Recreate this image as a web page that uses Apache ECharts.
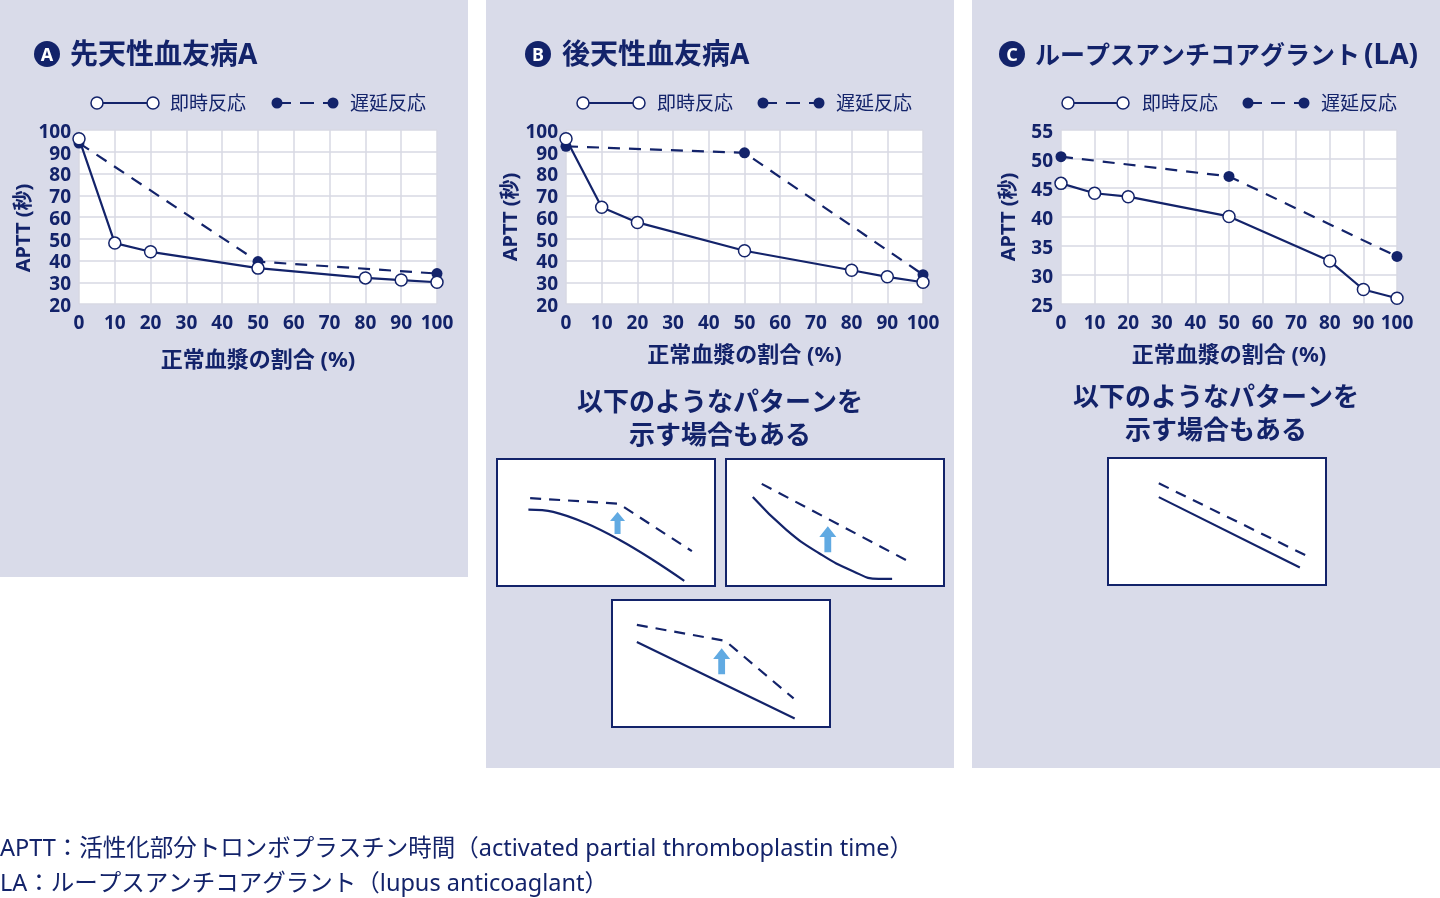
<!DOCTYPE html>
<html>
<head>
<meta charset="utf-8">
<script src="https://cdn.jsdelivr.net/npm/echarts@6/dist/echarts.min.js"></script>
<style>
html,body{margin:0;padding:0;background:#fff;}
#chart{width:1440px;height:898px;}
</style>
</head>
<body>
<div id="chart"></div>
<script>
// ---------- data ----------
const plasmaPct = [0, 10, 20, 50, 80, 90, 100];
const delayedPct = [0, 50, 100];
const xTicks = [0, 10, 20, 30, 40, 50, 60, 70, 80, 90, 100];

const aImmediate = [96, 48, 44, 36.5, 32, 31, 30];
const aDelayed = [94, 39.5, 34];
const bImmediate = [96, 64.5, 57.5, 44.5, 35.5, 32.5, 30];
const bDelayed = [92.5, 89.5, 33.5];
const cImmediate = [45.8, 44.1, 43.5, 40.1, 32.4, 27.5, 26];
const cDelayed = [50.4, 47, 33.2];

const titles = ['先天性血友病A', '後天性血友病A', 'ループスアンチコアグラント(LA)'];
const badges = ['A', 'B', 'C'];
const legendNames = ['即時反応', '遅延反応'];
const yName = 'APTT (秒)';
const xName = '正常血漿の割合 (%)';
const noteText = '以下のようなパターンを\n示す場合もある';
const footer1 = 'APTT：活性化部分トロンボプラスチン時間（activated partial thromboplastin time）';
const footer2 = 'LA：ループスアンチコアグラント（lupus anticoaglant）';

// schematic pattern sketches (percent of box)
const p1Solid = [[14.4, 60.2], [25.8, 58.4], [40.9, 49.4], [56.1, 36.4], [71.2, 20.9], [85.9, 4.1]];
const p1Dashed = [[15.2, 69.2], [55.3, 64.9], [57.6, 62.8], [89.4, 27.4]];
const p1Arrow = [[55.3, 49.6]];
const p2Solid = [[12.3, 70], [27.7, 44.2], [42.9, 25.6], [58, 11.9], [70, 5.6], [76.2, 5.6]];
const p2Dashed = [[16.4, 80.4], [83.5, 19.6]];
const p2Arrow = [[46.7, 36.8]];
const p3Solid = [[11.4, 66.9], [83.8, 6.7]];
const p3Dashed = [[11.4, 80.4], [50.8, 68.2], [52.6, 66.9], [83.3, 22.5]];
const p3Arrow = [[50.3, 51.7]];
const pcSolid = [[23.3, 69.2], [88, 13.7]];
const pcDashed = [[23.3, 80.1], [91.5, 22.7]];

// ---------- styles ----------
const navy = '#13236a';
const bgPanel = '#d9dbe9';
const gridLine = '#d7d9e3';
const arrowBlue = '#3a95db';
const FONT = "'Noto Sans', 'Noto Sans CJK JP', sans-serif";
const arrowPath = 'path://M7.5,0 L15,9 L10.5,9 L10.5,22 L4.5,22 L4.5,9 L0,9 Z';

const chart = echarts.init(document.getElementById('chart'), null, {renderer: 'canvas'});

const mainGrids = [
  {left: 79, top: 130, width: 358, height: 174},
  {left: 566, top: 130, width: 357, height: 174},
  {left: 1061, top: 130, width: 336, height: 174}
];
const patGrids = [
  {left: 497, top: 459, width: 218, height: 127},
  {left: 726, top: 459, width: 218, height: 127},
  {left: 612, top: 600, width: 218, height: 127},
  {left: 1108, top: 458, width: 218, height: 127}
];

const grids = [];
const xAxes = [];
const yAxes = [];
const series = [];

const yRanges = [
  {min: 20, max: 100, interval: 10},
  {min: 20, max: 100, interval: 10},
  {min: 25, max: 55, interval: 5}
];
const xNameGaps = [46, 41, 41];
const yNamePad = [[0, 22, 0, 0], [0, 0, 0, 0], [0, 0, 0, 0]];
const immData = [aImmediate, bImmediate, cImmediate];
const delData = [aDelayed, bDelayed, cDelayed];

mainGrids.forEach((g, i) => {
  grids.push(Object.assign({show: true, backgroundColor: '#fff', borderWidth: 0}, g));
  xAxes.push({
    type: 'value', gridIndex: i, min: 0, max: 100, interval: 10,
    name: xName, nameLocation: 'middle', nameGap: xNameGaps[i],
    nameTextStyle: {color: navy, fontSize: 22, fontWeight: 'bold', fontFamily: FONT},
    axisLine: {show: false}, axisTick: {show: false},
    axisLabel: {color: navy, fontSize: 19, fontWeight: 'bold', fontFamily: FONT, margin: 10,
      formatter: v => xTicks.indexOf(v) >= 0 ? String(v) : ''},
    splitLine: {show: true, lineStyle: {color: gridLine, width: 1.5}}
  });
  yAxes.push(Object.assign({
    type: 'value', gridIndex: i,
    name: yName, nameLocation: 'middle', nameGap: 42, nameRotate: 90,
    nameTextStyle: {color: navy, fontSize: 20, fontWeight: 'bold', fontFamily: FONT, padding: yNamePad[i]},
    axisLine: {show: false}, axisTick: {show: false},
    axisLabel: {margin: 8, formatter: v => '{t|' + v + '}',
      rich: {t: {color: navy, fontSize: 19, fontWeight: 'bold', fontFamily: FONT, padding: [5, 0, 0, 0]}}},
    splitLine: {show: true, lineStyle: {color: gridLine, width: 1.5}}
  }, yRanges[i]));
  series.push({
    type: 'line', name: legendNames[1], xAxisIndex: i, yAxisIndex: i, z: 2, clip: false,
    data: delayedPct.map((x, k) => [x, delData[i][k]]),
    symbol: 'circle', symbolSize: 11,
    lineStyle: {color: navy, width: 2.2, type: [12, 9]},
    itemStyle: {color: navy},
    emphasis: {disabled: true}
  });
  series.push({
    type: 'line', name: legendNames[0], xAxisIndex: i, yAxisIndex: i, z: 3, clip: false,
    data: plasmaPct.map((x, k) => [x, immData[i][k]]),
    symbol: 'circle', symbolSize: 12,
    lineStyle: {color: navy, width: 2.2},
    itemStyle: {color: '#fff', borderColor: navy, borderWidth: 1.5},
    emphasis: {disabled: true}
  });
});

const patterns = [
  {solid: p1Solid, dashed: p1Dashed, arrow: p1Arrow, smooth: 0.4, arrowSize: [15, 22]},
  {solid: p2Solid, dashed: p2Dashed, arrow: p2Arrow, smooth: 0.5, arrowSize: [17, 26]},
  {solid: p3Solid, dashed: p3Dashed, arrow: p3Arrow, smooth: false, arrowSize: [17, 26]},
  {solid: pcSolid, dashed: pcDashed, arrow: null, smooth: false}
];
patGrids.forEach((g, j) => {
  const gi = 3 + j;
  grids.push(Object.assign({show: true, backgroundColor: '#fff', borderColor: navy, borderWidth: 2}, g));
  xAxes.push({type: 'value', gridIndex: gi, min: 0, max: 100, show: false});
  yAxes.push({type: 'value', gridIndex: gi, min: 0, max: 100, show: false});
  const p = patterns[j];
  series.push({
    type: 'line', xAxisIndex: gi, yAxisIndex: gi, data: p.solid, smooth: p.smooth,
    symbol: 'none', lineStyle: {color: navy, width: 2.2}, silent: true
  });
  series.push({
    type: 'line', xAxisIndex: gi, yAxisIndex: gi, data: p.dashed,
    symbol: 'none', lineStyle: {color: navy, width: 2.2, type: [11, 8]}, silent: true
  });
  if (p.arrow) {
    series.push({
      type: 'scatter', xAxisIndex: gi, yAxisIndex: gi, data: p.arrow,
      symbol: arrowPath, symbolSize: p.arrowSize, symbolKeepAspect: false,
      itemStyle: {color: arrowBlue}, silent: true
    });
  }
});

// ---------- decorations ----------
const graphic = [];
[[0, 0, 468, 577], [486, 0, 468, 768], [972, 0, 468, 768]].forEach(r => {
  graphic.push({type: 'rect', z: -10, silent: true, shape: {x: r[0], y: r[1], width: r[2], height: r[3]}, style: {fill: bgPanel}});
});
const titlePos = [[47, 70], [538, 562], [1012, 1035]];
const TY = 54;
titlePos.forEach((t, i) => {
  graphic.push({type: 'circle', shape: {cx: t[0], cy: TY, r: 13}, style: {fill: navy}, silent: true});
  graphic.push({type: 'text', x: t[0], y: TY + 1.5, silent: true,
    style: {text: badges[i], fill: '#fff', font: 'bold 18px ' + FONT, align: 'center', verticalAlign: 'middle'}});
  if (i < 2) {
    graphic.push({type: 'text', x: t[1], y: TY + 2.5, silent: true,
      style: {text: titles[i], fill: navy, font: 'bold 28px ' + FONT, align: 'left', verticalAlign: 'middle'}});
  } else {
    const m = titles[i].match(/^(.*?)(\(.*\))$/);
    graphic.push({type: 'text', x: t[1], y: TY + 2.5, silent: true,
      style: {
        text: '{k|' + m[1] + '}{p|' + m[2] + '}', align: 'left', verticalAlign: 'middle',
        rich: {
          k: {fill: navy, font: 'bold 25px ' + FONT},
          p: {fill: navy, font: 'bold 28px ' + FONT, padding: [0, 0, 0, 4]}
        }
      }});
  }
});
const legendPos = [[97, 153, 170, 277, 333, 350], [583, 639, 657, 763, 819, 836], [1068, 1123, 1142, 1248, 1304, 1321]];
legendPos.forEach(L => {
  const y = 103;
  graphic.push({type: 'line', shape: {x1: L[0], y1: y, x2: L[1], y2: y}, style: {stroke: navy, lineWidth: 2}, silent: true});
  [L[0], L[1]].forEach(cx => graphic.push({type: 'circle', shape: {cx: cx, cy: y, r: 6}, style: {fill: '#fff', stroke: navy, lineWidth: 1.5}, silent: true}));
  graphic.push({type: 'text', x: L[2], y: y + 2, silent: true, style: {text: legendNames[0], fill: navy, font: '19px ' + FONT, verticalAlign: 'middle'}});
  graphic.push({type: 'line', shape: {x1: L[3], y1: y, x2: L[4], y2: y}, style: {stroke: navy, lineWidth: 2, lineDash: [14, 9]}, silent: true});
  [L[3], L[4]].forEach(cx => graphic.push({type: 'circle', shape: {cx: cx, cy: y, r: 5.5}, style: {fill: navy}, silent: true}));
  graphic.push({type: 'text', x: L[5], y: y + 2, silent: true, style: {text: legendNames[1], fill: navy, font: '19px ' + FONT, verticalAlign: 'middle'}});
});
[[720, 420], [1216, 415]].forEach(p => {
  graphic.push({type: 'text', x: p[0], y: p[1], silent: true,
    style: {text: noteText, fill: navy, font: 'bold 26px ' + FONT, align: 'center', verticalAlign: 'middle', lineHeight: 33}});
});
graphic.push({type: 'text', x: 0, y: 849, silent: true, style: {text: footer1, fill: navy, font: '23.5px ' + FONT, verticalAlign: 'middle'}});
graphic.push({type: 'text', x: 0, y: 884, silent: true, style: {text: footer2, fill: navy, font: '23.5px ' + FONT, verticalAlign: 'middle'}});

chart.setOption({
  animation: false,
  backgroundColor: '#fff',
  textStyle: {fontFamily: FONT},
  grid: grids,
  xAxis: xAxes,
  yAxis: yAxes,
  series: series,
  graphic: graphic
});
</script>
</body>
</html>
